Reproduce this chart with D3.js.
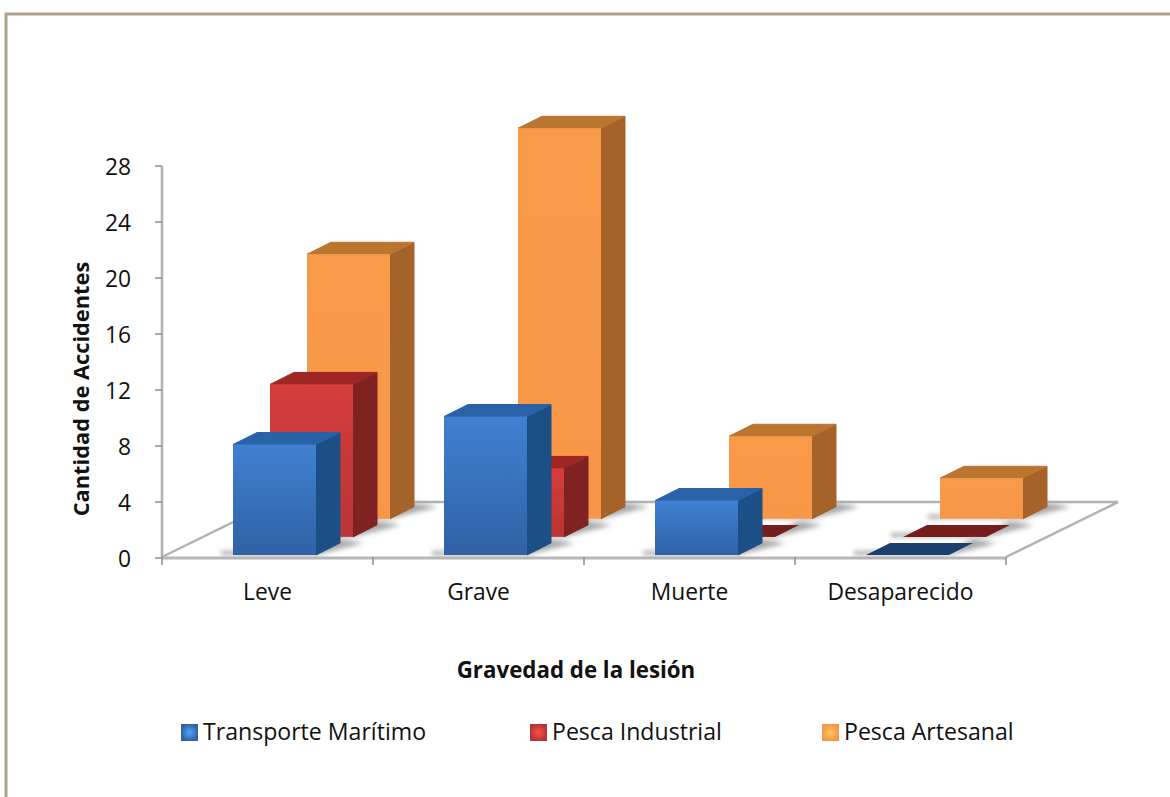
<!DOCTYPE html>
<html>
<head>
<meta charset="utf-8">
<script src="https://d3js.org/d3.v7.min.js"></script>
<style>
  body { margin: 0; background: #fff; }
  svg { display: block; }
  text { font-family: "Open Sans", sans-serif; fill: #111; }
</style>
</head>
<body>
<script>
  const categories = ["Leve", "Grave", "Muerte", "Desaparecido"];
  const seriesNames = ["Transporte Marítimo", "Pesca Industrial", "Pesca Artesanal"];
  const transporte = [8, 10, 4, 0];
  const industrial = [11, 5, 0, 0];
  const artesanal = [19, 28, 6, 3];
  const yTicks = [0, 4, 8, 12, 16, 20, 24, 28];

  const allValues = [transporte, industrial, artesanal];
  const frontTop = ["#4080d2", "#d63c3c", "#f99a4a"];
  const frontBottom = ["#2f62a4", "#b93434", "#f79646"];
  const sideColor = ["#1f4f86", "#7f2020", "#a5632a"];
  const topColor = ["#2a62a8", "#a02626", "#ba752f"];
  const flatColor = ["#1c3f6e", "#741a1a", "#ba752f"];

  const width = 1170, height = 797;
  const axisLeft = 162, axisRight = 1006, floorY = 557, yTop = 165;
  const barW = 83, sideX = 24, sideY = 12, floorDepth = 112, slant = 0.49, bevel = 1.5;

  const svg = d3.select("body").append("svg")
    .attr("width", width)
    .attr("height", height);

  const defs = svg.append("defs");
  defs.append("filter").attr("id", "soft")
    .attr("x", "-30%").attr("y", "-60%").attr("width", "160%").attr("height", "220%")
    .append("feGaussianBlur").attr("stdDeviation", 2.5);
  defs.append("filter").attr("id", "edge")
    .attr("x", "-5%").attr("y", "-5%").attr("width", "110%").attr("height", "110%")
    .append("feGaussianBlur").attr("stdDeviation", 0.6);
  seriesNames.forEach(function (s, i) {
    const g = defs.append("linearGradient").attr("id", "front" + i)
      .attr("x1", 0).attr("x2", 0).attr("y1", 0).attr("y2", 1);
    g.append("stop").attr("offset", "0%").attr("stop-color", frontTop[i]);
    g.append("stop").attr("offset", "100%").attr("stop-color", frontBottom[i]);
    const r = defs.append("radialGradient").attr("id", "swatch" + i);
    r.append("stop").attr("offset", "0%").attr("stop-color", d3.color(frontTop[i]).brighter(0.7));
    r.append("stop").attr("offset", "100%").attr("stop-color", frontBottom[i]);
  });

  // page frame, only top and left are visible in the picture
  svg.append("path")
    .attr("d", "M6,797V14H1170")
    .attr("fill", "none")
    .attr("stroke", "#aca48c")
    .attr("stroke-width", 3);

  const x = d3.scaleBand().domain(categories).range([axisLeft, axisRight]);
  const y = d3.scaleLinear().domain([0, 28]).range([0, floorY - yTop]);
  const depth = d3.scaleOrdinal().domain(seriesNames).range([4, 41, 78]);

  // floor
  const floor = svg.append("g");
  floor.append("path")
    .attr("d", "M" + axisLeft + "," + floorY + "L" + (axisLeft + floorDepth) + "," + (floorY - floorDepth * slant)
      + "H" + (axisRight + floorDepth) + "L" + axisRight + "," + floorY)
    .attr("fill", "#fff")
    .attr("stroke", "#b2b2b2")
    .attr("stroke-width", 2.5);

  // axes, the ticks sit one pixel under the floor edge
  const yAxis = svg.append("g").attr("transform", "translate(0,1)");
  yAxis.append("line")
    .attr("x1", axisLeft).attr("x2", axisLeft)
    .attr("y1", yTop).attr("y2", floorY)
    .attr("stroke", "#b0b0b0").attr("stroke-width", 2.5);
  yAxis.selectAll("line.tick").data(yTicks).enter().append("line")
    .attr("class", "tick")
    .attr("x1", axisLeft - 7).attr("x2", axisLeft)
    .attr("y1", function (d) { return floorY - y(d); })
    .attr("y2", function (d) { return floorY - y(d); })
    .attr("stroke", "#8c8c8c").attr("stroke-width", 1.5);
  yAxis.selectAll("text").data(yTicks).enter().append("text")
    .attr("x", 131)
    .attr("y", function (d) { return floorY - y(d) + 9; })
    .attr("text-anchor", "end")
    .style("font-size", "22.8px")
    .text(function (d) { return d; });

  const xAxis = svg.append("g");
  xAxis.append("line")
    .attr("x1", axisLeft).attr("x2", axisRight)
    .attr("y1", floorY + 1).attr("y2", floorY + 1)
    .attr("stroke", "#b8b8b8").attr("stroke-width", 3);
  const xTickVals = categories.map(function (c) { return x(c); }).concat([axisRight]);
  xAxis.selectAll("line.tick").data(xTickVals).enter().append("line")
    .attr("class", "tick")
    .attr("x1", function (d) { return d; }).attr("x2", function (d) { return d; })
    .attr("y1", floorY).attr("y2", floorY + 8)
    .attr("stroke", "#8c8c8c").attr("stroke-width", 1.5);
  xAxis.selectAll("text").data(categories).enter().append("text")
    .attr("x", function (d) { return x(d) + x.bandwidth() / 2; })
    .attr("y", 600)
    .attr("text-anchor", "middle")
    .style("font-size", "22.8px")
    .text(function (d) { return d; });

  // bars, back series first so the front ones cover them
  function poly(pts) { return pts.map(function (p) { return p.join(","); }).join(" "); }

  const bars = svg.append("g");
  [2, 1, 0].forEach(function (si) {
    const name = seriesNames[si];
    const z = depth(name);
    categories.forEach(function (cat, ci) {
      const v = allValues[si][ci];
      const left = x(cat) + 67 + z;
      const right = left + barW;
      const base = floorY - z * slant;
      const cast = [[left - 12, base], [right, base], [right + sideX + 24, base - sideY], [right + sideX, base - sideY - 4], [right, base - 4], [left - 12, base - 4]];

      bars.append("polygon").attr("points", poly(cast))
        .attr("fill", "#a8a8a8").attr("filter", "url(#soft)");

      const box = bars.append("g").attr("filter", "url(#edge)");
      if (v === 0) {
        box.append("polygon")
          .attr("points", poly([[left, base], [right, base], [right + sideX, base - sideY], [left + sideX, base - sideY]]))
          .attr("fill", flatColor[si]);
        return;
      }
      const top = base - y(v) + bevel;
      box.append("polygon")
        .attr("points", poly([[right, base], [right + sideX, base - sideY], [right + sideX, top - sideY], [right, top]]))
        .attr("fill", sideColor[si])
        .attr("stroke", sideColor[si]).attr("stroke-linejoin", "round");
      box.append("polygon")
        .attr("points", poly([[left, top], [right, top], [right + sideX, top - sideY], [left + sideX, top - sideY]]))
        .attr("fill", topColor[si])
        .attr("stroke", topColor[si]).attr("stroke-linejoin", "round");
      box.append("rect")
        .attr("x", left).attr("y", top)
        .attr("width", barW).attr("height", base - top)
        .attr("fill", "url(#front" + si + ")");
    });
  });

  // axis titles
  svg.append("text")
    .attr("transform", "translate(89,389) rotate(-90)")
    .attr("text-anchor", "middle")
    .style("font-size", "21.8px").style("font-weight", "bold")
    .text("Cantidad de Accidentes");
  svg.append("text")
    .attr("x", 576).attr("y", 678)
    .attr("text-anchor", "middle")
    .style("font-size", "22.3px").style("font-weight", "bold")
    .text("Gravedad de la lesión");

  // legend
  const legendX = [181, 530, 822];
  const legend = svg.append("g");
  seriesNames.forEach(function (s, i) {
    legend.append("rect")
      .attr("x", legendX[i]).attr("y", 724)
      .attr("width", 17).attr("height", 17)
      .attr("fill", "url(#swatch" + i + ")");
    legend.append("text")
      .attr("x", legendX[i] + 22).attr("y", 740)
      .style("font-size", "23.1px")
      .text(s);
  });
</script>
</body>
</html>
